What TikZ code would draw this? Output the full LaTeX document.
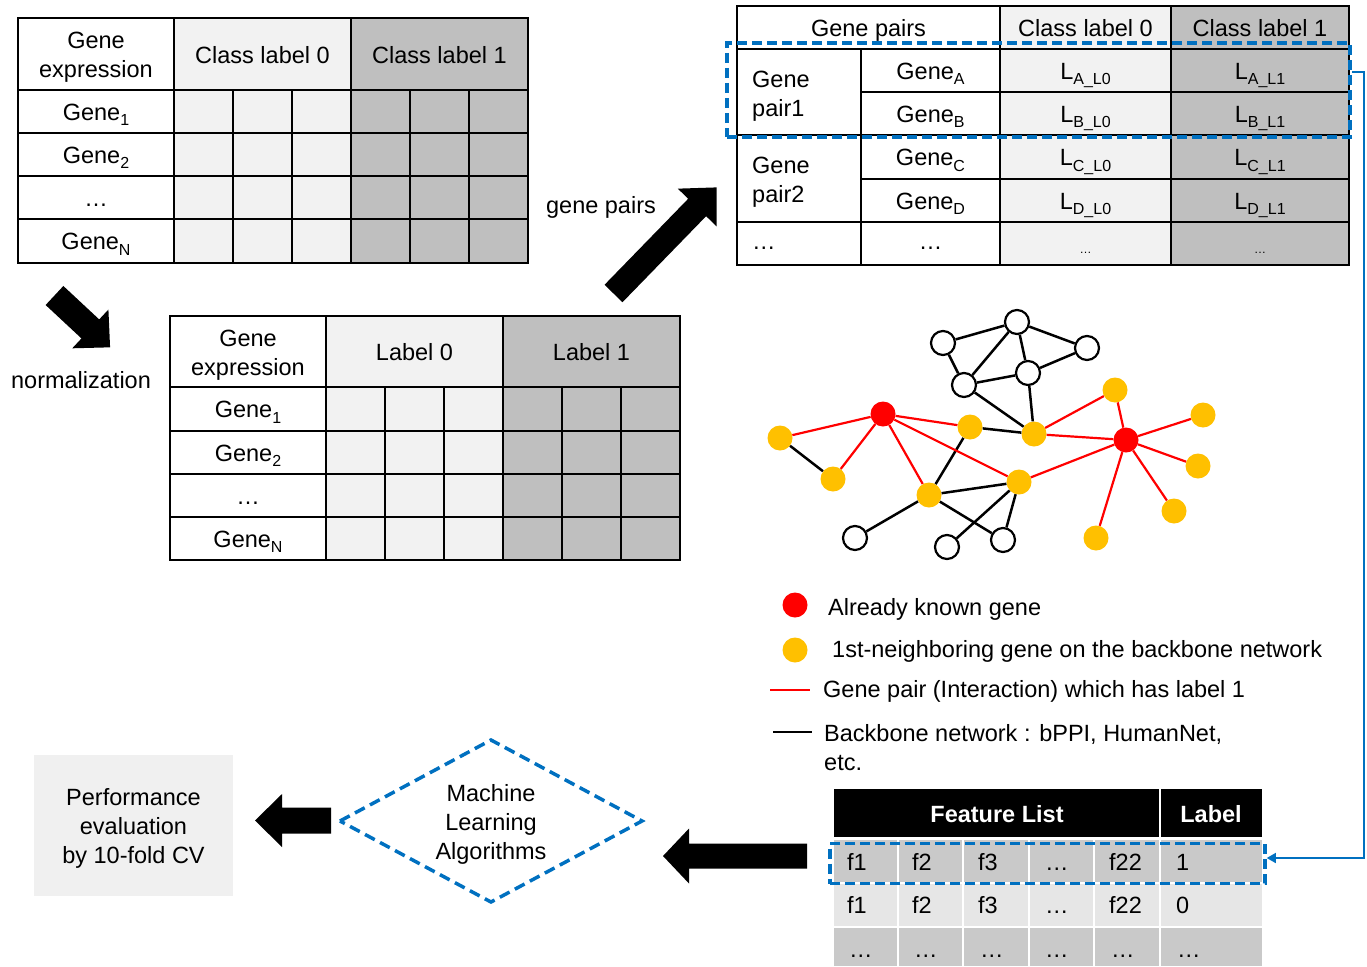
\documentclass[tikz,border=0pt]{standalone}
\usepackage{fontspec}
\setmainfont{Liberation Sans}
\usetikzlibrary{arrows.meta}
\definecolor{lg}{HTML}{F2F2F2}
\definecolor{dg}{HTML}{BFBFBF}
\definecolor{bl}{HTML}{0070C0}
\definecolor{yl}{HTML}{FFC000}
\definecolor{rd}{HTML}{FF0000}
\definecolor{fga}{HTML}{C9C9C9}
\definecolor{fgb}{HTML}{E6E6E6}
\definecolor{pf}{HTML}{F0F0F0}
\newcommand\mysub[1]{\raisebox{-5.5pt}{\fontsize{16}{16}\selectfont #1}}
\tikzset{pics/barrow/.style n args={4}{code={\fill[black] (0,#1/2) -- (#3-#4,#1/2) -- (#3-#4,#2/2) -- (#3,0) -- (#3-#4,-#2/2) -- (#3-#4,-#1/2) -- (0,-#1/2) -- cycle;}}}
\begin{document}
\begin{tikzpicture}[x=1pt,y=-1pt,font=\fontsize{23.5}{29}\selectfont,
  tb/.style={draw=black,line width=1.8},
  cell/.style={inner sep=0,text height=17,text depth=0},
  mcell/.style={inner sep=0,align=center},
  lt/.style={anchor=west,inner sep=0,text height=17,text depth=0},
  ft/.style={anchor=base west,inner sep=0},
  wn/.style={circle,draw=black,fill=white,line width=2.2,minimum size=24,inner sep=0},
  yn/.style={circle,fill=yl,minimum size=25,inner sep=0},
  rn/.style={circle,fill=rd,minimum size=25,inner sep=0},
  be/.style={line width=2.5,black},
  re/.style={line width=2.2,rd},
  dbox/.style={draw=bl,line width=3.5,dash pattern=on 10 off 5,inner sep=0},
  conn/.style={draw=bl,line width=1.4,-{Triangle[length=9,width=10]}}]
\useasboundingbox (0,0) rectangle (1367,966);

% ---------- table 1 ----------
\begin{scope}[shift={(18,18)}]
 \fill[lg] (156,0) rectangle (333,245);
 \fill[dg] (333,0) rectangle (510,245);
 \foreach \y in {72,115,158,201} \draw[tb] (0,\y) -- (510,\y);
 \foreach \x in {156,333} \draw[tb] (\x,0) -- (\x,245);
 \foreach \x in {215,274,392,451} \draw[tb] (\x,72) -- (\x,245);
 \draw[tb] (0,0) rectangle (510,245);
 \node[mcell] (ah) at (78,39) {Gene\\expression};
 \node[cell] (a0) at (244.5,37) {Class label 0};
 \node[cell] (a1) at (421.5,37) {Class label 1};
 \node[cell] (ag1) at (78,93.5) {Gene\mysub{1}};
 \node[cell] (ag2) at (78,136.5) {Gene\mysub{2}};
 \node[cell] (agd) at (78,179.5) {…};
 \node[cell] (agn) at (78,223) {Gene\mysub{N}};
\end{scope}

% ---------- table 2 ----------
\begin{scope}[shift={(170,316)}]
 \fill[lg] (156,0) rectangle (333,244);
 \fill[dg] (333,0) rectangle (510,244);
 \foreach \y in {71,115,158,201} \draw[tb] (0,\y) -- (510,\y);
 \foreach \x in {156,333} \draw[tb] (\x,0) -- (\x,244);
 \foreach \x in {215,274,392,451} \draw[tb] (\x,71) -- (\x,244);
 \draw[tb] (0,0) rectangle (510,244);
 \node[mcell] (bh) at (78,39) {Gene\\expression};
 \node[cell] (b0) at (244.5,36) {Label 0};
 \node[cell] (b1) at (421.5,36) {Label 1};
 \node[cell] (bg1) at (78,93) {Gene\mysub{1}};
 \node[cell] (bg2) at (78,136.5) {Gene\mysub{2}};
 \node[cell] (bgd) at (78,179.5) {…};
 \node[cell] (bgn) at (78,222.5) {Gene\mysub{N}};
\end{scope}

% ---------- table 3 ----------
\fill[lg] (1000,6) rectangle (1171,265);
\fill[dg] (1171,6) rectangle (1349,265);
\foreach \y in {49,135,222} \draw[tb] (737,\y) -- (1349,\y);
\foreach \y in {92,179} \draw[tb] (861,\y) -- (1349,\y);
\draw[tb] (861,49) -- (861,265);
\foreach \x in {1000,1171} \draw[tb] (\x,6) -- (\x,265);
\draw[tb] (737,6) rectangle (1349,265);
\node[cell] (ch) at (868.5,28) {Gene pairs};
\node[cell] (c0) at (1085.5,28) {Class label 0};
\node[cell] (c1) at (1260,28) {Class label 1};
\node[anchor=west,inner sep=0,align=left] (cp1) at (752,96) {Gene\\pair1};
\node[anchor=west,inner sep=0,align=left] (cp2) at (752,182) {Gene\\pair2};
\node[cell] (cga) at (930.5,70.5) {Gene\mysub{A}};
\node[cell] (cgb) at (930.5,113.5) {Gene\mysub{B}};
\node[cell] (cgc) at (930.5,157) {Gene\mysub{C}};
\node[cell] (cgd) at (930.5,200.5) {Gene\mysub{D}};
\node[cell] (la0) at (1085.5,70.5) {L\mysub{A\_L0}};
\node[cell] (lb0) at (1085.5,113.5) {L\mysub{B\_L0}};
\node[cell] (lc0) at (1085.5,157) {L\mysub{C\_L0}};
\node[cell] (ld0) at (1085.5,200.5) {L\mysub{D\_L0}};
\node[cell] (la1) at (1260,70.5) {L\mysub{A\_L1}};
\node[cell] (lb1) at (1260,113.5) {L\mysub{B\_L1}};
\node[cell] (lc1) at (1260,157) {L\mysub{C\_L1}};
\node[cell] (ld1) at (1260,200.5) {L\mysub{D\_L1}};
\node[lt] (cd1) at (752,241) {…};
\node[cell] (cd2) at (930.5,241) {…};
\node[inner sep=0,font=\fontsize{12}{14}\selectfont] (cd3) at (1085.5,253) {…};
\node[inner sep=0,font=\fontsize{12}{14}\selectfont] (cd4) at (1260,253) {…};

% ---------- arrows and labels ----------
\pic[rotate=-43] at (54.5,295.5) {barrow={26}{53}{76}{27}};
\node[inner sep=0] (norm) at (81,380) {normalization};
\pic[rotate=45.8] at (613.5,293.5) {barrow={25}{54}{148}{28}};
\node[inner sep=0] (gp) at (601,207) {gene pairs};

% ---------- network ----------
\node[wn] (w1) at (943,343) {};
\node[wn] (w2) at (1017,322) {};
\node[wn] (w3) at (1087,348) {};
\node[wn] (w4) at (964,385) {};
\node[wn] (w5) at (1028,373) {};
\node[wn] (w6) at (855,538) {};
\node[wn] (w7) at (947,547) {};
\node[wn] (w8) at (1003,540) {};
\node[yn] (y1) at (780,438) {};
\node[yn] (y2) at (833,479) {};
\node[yn] (y3) at (970,427) {};
\node[yn] (y4) at (1034,434) {};
\node[yn] (y5) at (929,495) {};
\node[yn] (y6) at (1019,482) {};
\node[yn] (y7) at (1115,390) {};
\node[yn] (y8) at (1203,415) {};
\node[yn] (y9) at (1198,466) {};
\node[yn] (y10) at (1174,511) {};
\node[yn] (y11) at (1096,538) {};
\node[rn] (r1) at (883,414) {};
\node[rn] (r2) at (1126,440) {};
\foreach \a/\b in {w1/w2,w2/w3,w1/w4,w2/w4,w2/w5,w3/w5,w4/w5,w4/y4,w5/y4,y3/y4,y1/y2,y3/y5,y5/y6,y5/w6,y5/w8,y6/w7,y6/w8}
  \draw[be] (\a) -- (\b);
\foreach \a/\b in {r1/y1,r1/y2,r1/y3,r1/y5,r1/y6,y4/y7,y7/r2,y4/r2,r2/y6,r2/y8,r2/y9,r2/y10,r2/y11}
  \draw[re] (\a) -- (\b);

% ---------- legend ----------
\node[rn] (lr) at (795,605) {};
\node[lt] (lrt) at (828,607) {Already known gene};
\node[yn] (ly) at (795,650) {};
\node[lt] (lyt) at (832,649) {1st-neighboring gene on the backbone network};
\coordinate (lra) at (770,690);
\coordinate (lrb) at (810,690);
\draw[re] (lra) -- (lrb);
\node[lt] (lret) at (823,689) {Gene pair (Interaction) which has label 1};
\coordinate (lba) at (773,732);
\coordinate (lbb) at (812,732);
\draw[be] (lba) -- (lbb);
\node[anchor=west,inner sep=0,align=left] (lbt) at (824,748) {Backbone network : bPPI, HumanNet,\\etc.};

% ---------- feature table ----------
\fill[black] (834,789) rectangle (1159,837);
\fill[black] (1161,789) rectangle (1262,837);
\node[inner sep=0,text=white,font=\fontsize{23.5}{29}\selectfont\bfseries] (fl) at (997,814) {Feature List};
\node[inner sep=0,text=white,font=\fontsize{23.5}{29}\selectfont\bfseries] (flab) at (1211,814) {Label};
\fill[fga] (834,840) rectangle (1262,882);
\fill[fgb] (834,884) rectangle (1262,926);
\fill[fga] (834,928) rectangle (1262,966);
\foreach \x in {898,963,1029,1094,1159.5} \draw[white,line width=2] (\x,840) -- (\x,966);
\foreach \x/\t [count=\i] in {847/f1,912/f2,978/f3,1045/…,1109/f22,1176/1}
  \node[ft] (fa\i) at (\x,870) {\t};
\foreach \x/\t [count=\i] in {847/f1,912/f2,978/f3,1045/…,1109/f22,1176/0}
  \node[ft] (fb\i) at (\x,913) {\t};
\foreach \x [count=\i] in {849,914,980,1045,1111,1177}
  \node[ft] (fc\i) at (\x,957) {…};

% ---------- selections and connector ----------
\node[dbox,minimum width=623,minimum height=94] (sel1) at (1038.5,90) {};
\node[dbox,minimum width=435,minimum height=40] (sel2) at (1047.5,863.5) {};
\coordinate (k1) at (1364,72);
\coordinate (k2) at (1364,858);
\draw[conn] (sel1.east |- k1) -- (k1) -- (k2) -- (sel2.east |- k2);

% ---------- bottom ----------
\pic[rotate=180] at (807,856) {barrow={25}{55}{144}{26}};
\coordinate (dl) at (340,821);
\coordinate (dt) at (491,740);
\coordinate (dr) at (642,821);
\coordinate (db) at (491,902);
\draw[draw=bl,line width=3.5,dash pattern=on 11 off 6] (dl) -- (dt) -- (dr) -- (db) -- cycle;
\node[mcell] (ml) at (491,824) {Machine\\Learning\\Algorithms};
\pic[rotate=180] at (331,820.5) {barrow={26}{53}{76}{27}};
\node[fill=pf,minimum width=199,minimum height=141,inner sep=0] (perfbox) at (133.5,825.5) {};
\node[mcell] (perf) at (133.5,828.5) {Performance\\evaluation\\by 10-fold CV};
\end{tikzpicture}
\end{document}
